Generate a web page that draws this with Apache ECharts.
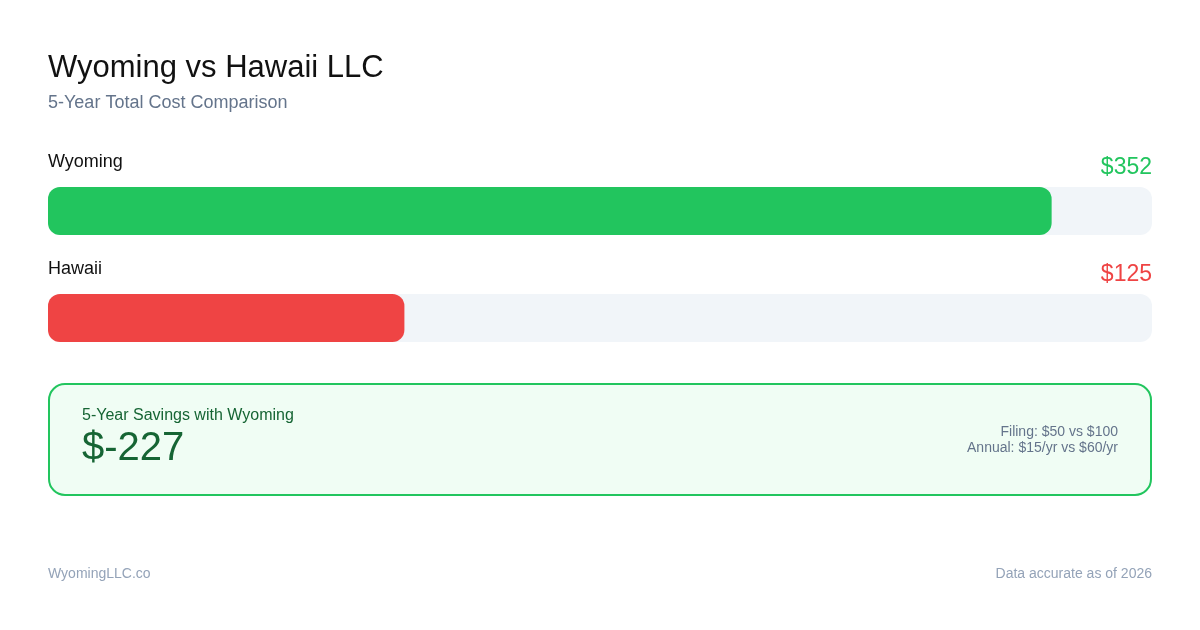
<!DOCTYPE html>
<html>
<head>
<meta charset="utf-8">
<script src="https://cdn.jsdelivr.net/npm/echarts@6/dist/echarts.min.js"></script>
<style>
html,body{margin:0;padding:0;background:#fff;}
#c{width:1200px;height:630px;}
</style>
</head>
<body>
<div id="c"></div>
<script>
const categories = ['Wyoming', 'Hawaii'];
const totals = [352, 125];
const barColors = ['#22c55e', '#ef4444'];
const detailLines = ['Filing: $50 vs $100', 'Annual: $15/yr vs $60/yr'];
const footerLeft = 'WyomingLLC.co';
const footerRight = 'Data accurate as of 2026';

const FONT = '"Liberation Sans", Arial, Helvetica, sans-serif';
const xMax = Math.max.apply(null, totals) * 1.1;
const savings = totals[1] - totals[0];

const chart = echarts.init(document.getElementById('c'), null, {renderer: 'canvas'});

const trackData = categories.map(function (c) { return xMax; });

chart.setOption({
  backgroundColor: '#ffffff',
  animation: false,
  textStyle: {fontFamily: FONT},
  title: {
    text: 'Wyoming vs Hawaii LLC',
    subtext: '5-Year Total Cost Comparison',
    left: 48, top: 53,
    padding: 0,
    itemGap: 10,
    textStyle: {fontFamily: FONT, fontSize: 31, fontWeight: 'normal', color: '#111111'},
    subtextStyle: {fontFamily: FONT, fontSize: 18, color: '#64748b'}
  },
  grid: {left: 48, right: 48, top: 157.5, height: 214, containLabel: false},
  xAxis: {type: 'value', min: 0, max: xMax, show: false},
  yAxis: {type: 'category', data: categories, inverse: true, show: false},
  series: [
    {
      type: 'bar',
      data: trackData,
      barWidth: 48,
      silent: true,
      itemStyle: {color: '#f1f5f9', borderRadius: 12},
      label: {
        show: true,
        position: [0, -8],
        verticalAlign: 'bottom',
        align: 'left',
        width: 1104,
        formatter: function (p) {
          const i = p.dataIndex;
          return '{n|' + categories[i] + '}{' + (i === 0 ? 'g' : 'r') + '|$' + totals[i] + '}';
        },
        rich: {
          n: {fontFamily: FONT, fontSize: 18, color: '#111111', align: 'left', verticalAlign: 'bottom', padding: [0, 0, 8, 0]},
          g: {fontFamily: FONT, fontSize: 23, color: barColors[0], align: 'right', verticalAlign: 'bottom'},
          r: {fontFamily: FONT, fontSize: 23, color: barColors[1], align: 'right', verticalAlign: 'bottom'}
        }
      }
    },
    {
      type: 'bar',
      data: totals.map(function (v, i) { return {value: v, itemStyle: {color: barColors[i]}}; }),
      barWidth: 48,
      barGap: '-100%',
      itemStyle: {borderRadius: 12},
      label: {show: false}
    }
  ],
  graphic: [
    {
      type: 'rect',
      shape: {x: 49, y: 384, width: 1102, height: 111, r: 16},
      style: {fill: '#f0fdf4', stroke: '#22c55e', lineWidth: 2},
      z: 1
    },
    {
      type: 'text', x: 82, y: 416, z: 2,
      style: {text: '5-Year Savings with Wyoming', font: '16px ' + FONT, fill: '#166534', textVerticalAlign: 'middle'}
    },
    {
      type: 'text', x: 82, y: 449, z: 2,
      style: {text: '$' + savings, font: '40px ' + FONT, fill: '#166534', textVerticalAlign: 'middle'}
    },
    {
      type: 'text', x: 1118, y: 432, z: 2,
      style: {text: detailLines[0], font: '14px ' + FONT, fill: '#64748b', textAlign: 'right', textVerticalAlign: 'middle'}
    },
    {
      type: 'text', x: 1118, y: 448, z: 2,
      style: {text: detailLines[1], font: '14px ' + FONT, fill: '#64748b', textAlign: 'right', textVerticalAlign: 'middle'}
    },
    {
      type: 'text', x: 48, y: 574, z: 2,
      style: {text: footerLeft, font: '14px ' + FONT, fill: '#94a3b8', textVerticalAlign: 'middle'}
    },
    {
      type: 'text', x: 1152, y: 574, z: 2,
      style: {text: footerRight, font: '14px ' + FONT, fill: '#94a3b8', textAlign: 'right', textVerticalAlign: 'middle'}
    }
  ]
});
</script>
</body>
</html>
